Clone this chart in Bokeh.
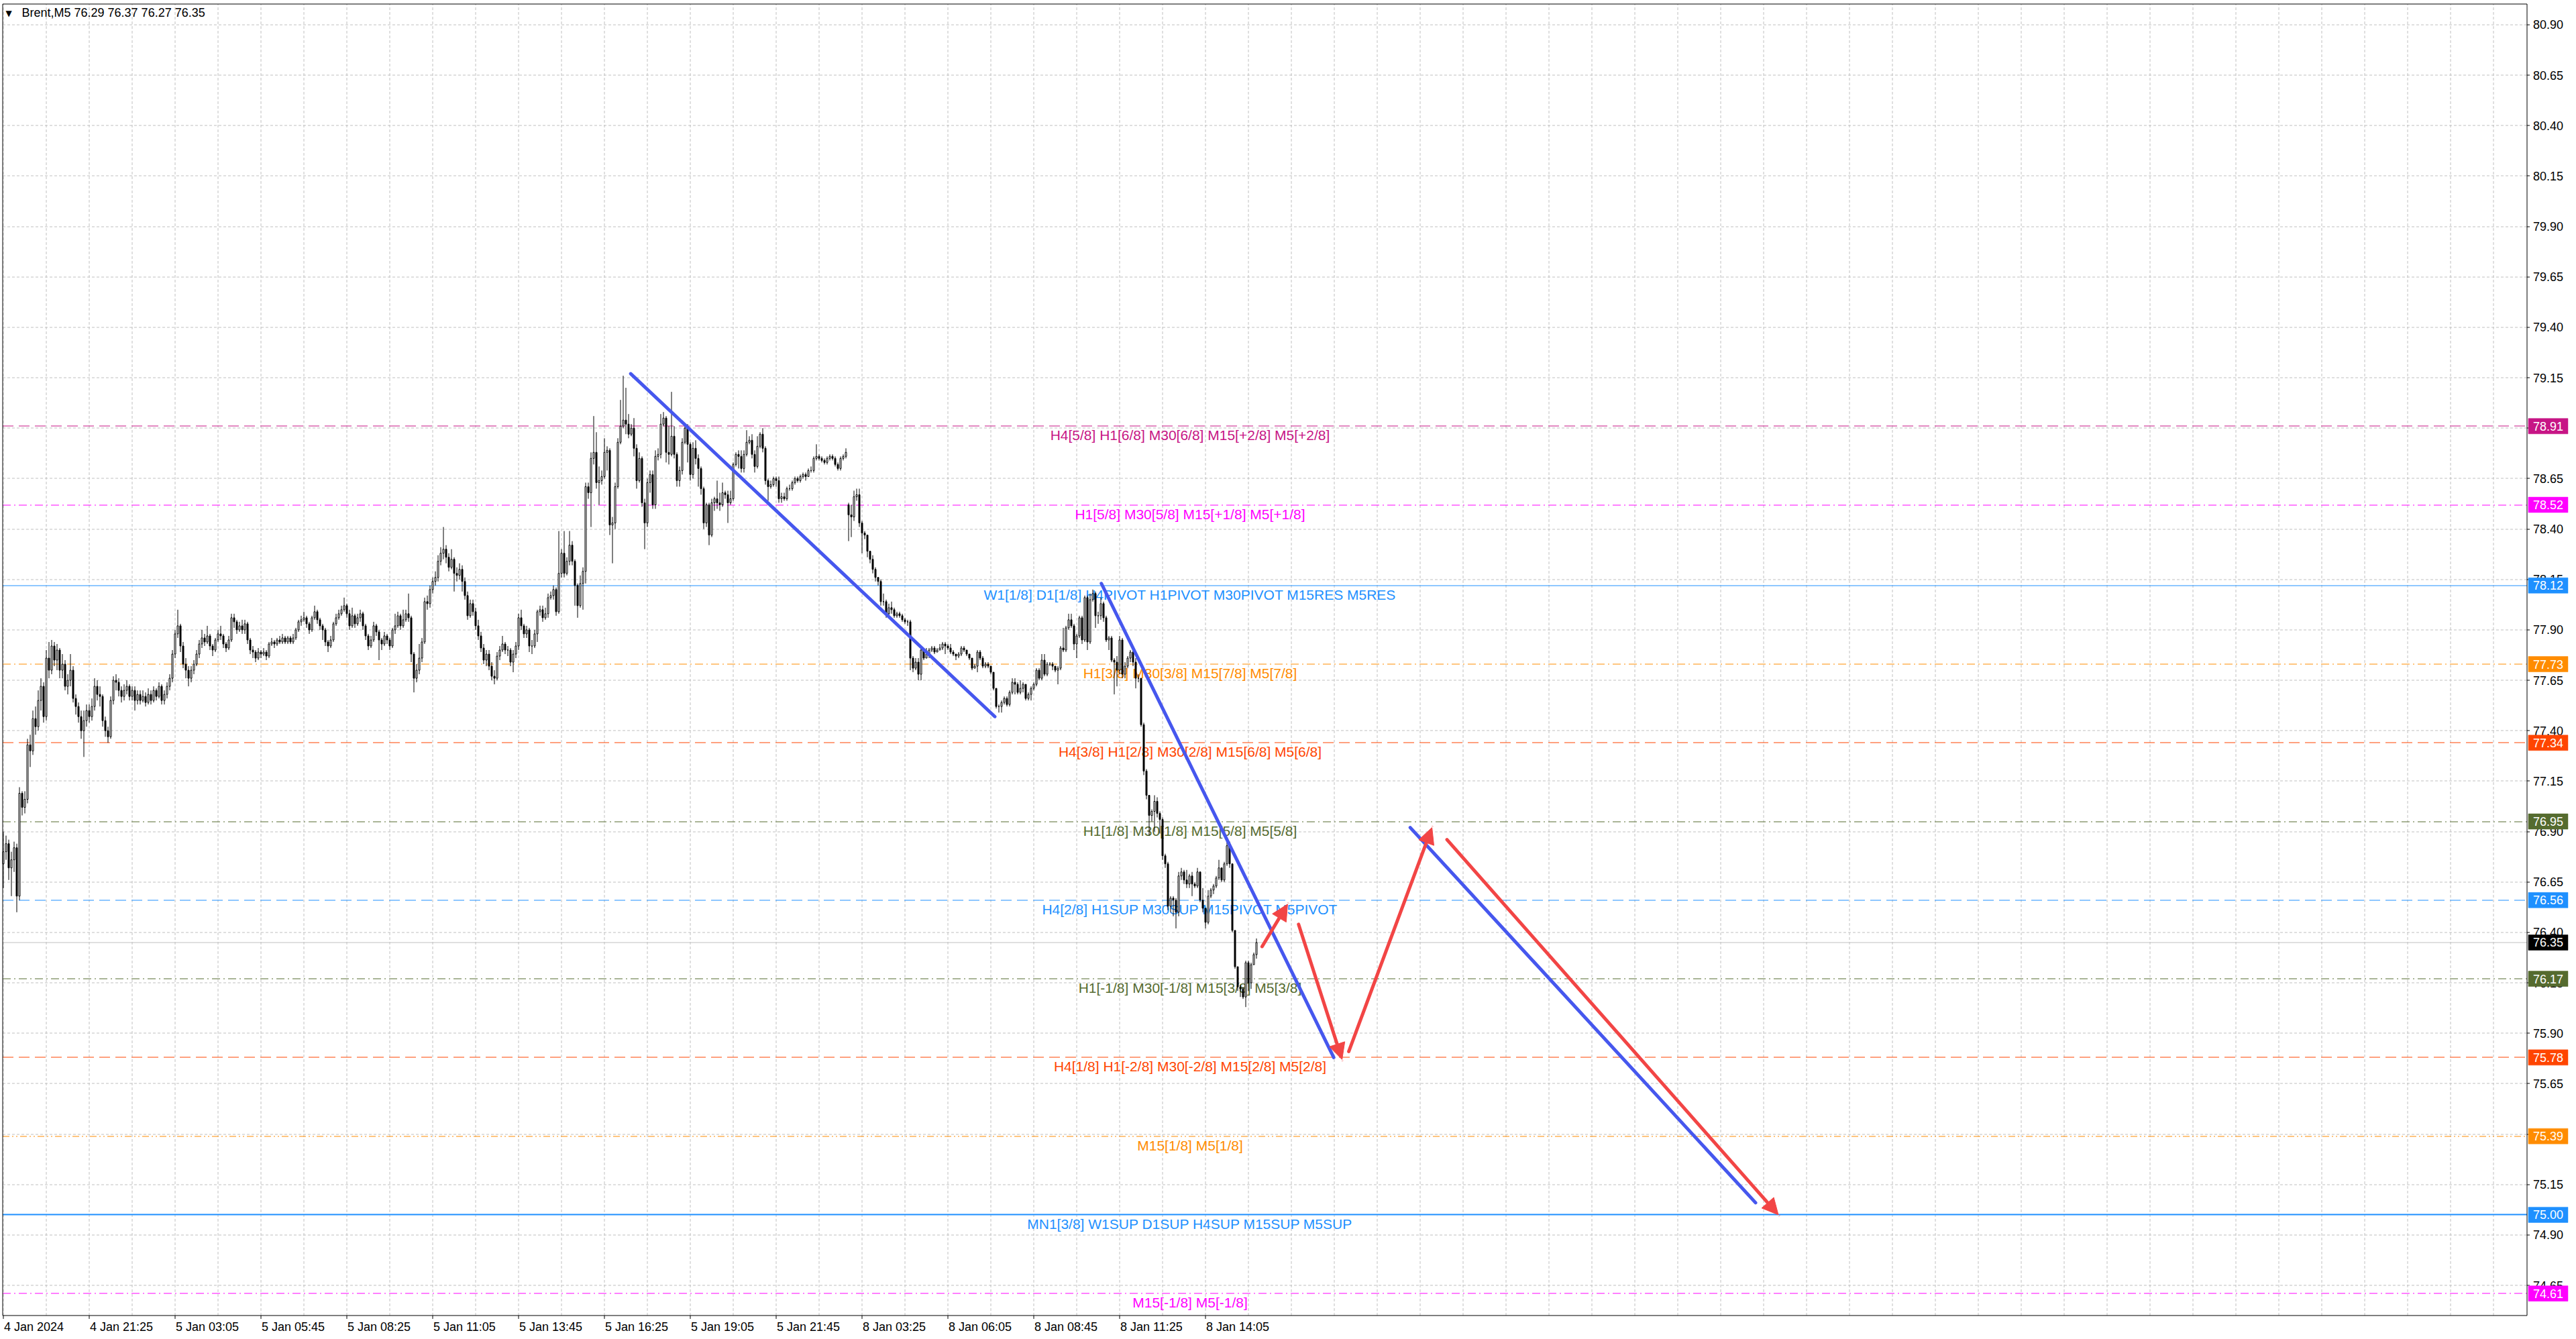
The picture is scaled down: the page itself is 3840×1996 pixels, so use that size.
import math
from bokeh.plotting import figure
from bokeh.models import Range1d, Label, Arrow, NormalHead, ColumnDataSource
from bokeh.core.properties import value
from bokeh.embed import file_html
from bokeh.resources import INLINE

# ---------------- data ----------------
symbol_title = "Brent,M5  76.29 76.37 76.27 76.35"

close = [
    76.80, 76.84, 76.72, 76.76, 76.82, 76.58, 77.09, 77.02, 77.06, 77.33,
    77.30, 77.46, 77.42, 77.55, 77.62, 77.47, 77.76, 77.70, 77.82, 77.75,
    77.80, 77.70, 77.73, 77.62, 77.65, 77.70, 77.56, 77.52, 77.47, 77.40,
    77.45, 77.50, 77.47, 77.52, 77.62, 77.58, 77.57, 77.45, 77.40, 77.37,
    77.55, 77.65, 77.64, 77.60, 77.57, 77.60, 77.62, 77.57, 77.60, 77.55,
    77.58, 77.55, 77.57, 77.54, 77.58, 77.55, 77.60, 77.57, 77.62, 77.55,
    77.58, 77.62, 77.66, 77.78, 77.88, 77.92, 77.82, 77.73, 77.70, 77.66,
    77.70, 77.73, 77.78, 77.83, 77.86, 77.84, 77.87, 77.82, 77.80, 77.85,
    77.88, 77.87, 77.83, 77.81, 77.85, 77.96, 77.94, 77.90, 77.92, 77.90,
    77.93, 77.85, 77.80, 77.79, 77.76, 77.79, 77.78, 77.79, 77.77, 77.83,
    77.84, 77.83, 77.85, 77.84, 77.86, 77.84, 77.86, 77.84, 77.86, 77.90,
    77.94, 77.95, 77.96, 77.93, 77.90, 77.96, 77.99, 77.95, 77.92, 77.90,
    77.84, 77.82, 77.85, 77.93, 77.96, 77.98, 78.00, 78.02, 77.98, 77.92,
    77.97, 77.93, 77.96, 77.98, 77.92, 77.87, 77.82, 77.85, 77.92, 77.89,
    77.85, 77.83, 77.87, 77.85, 77.82, 77.90, 77.92, 77.97, 77.92, 77.95,
    77.98, 77.96, 77.78, 77.66, 77.70, 77.76, 77.84, 78.04, 78.03, 78.10,
    78.14, 78.16, 78.24, 78.28, 78.30, 78.26, 78.21, 78.25, 78.18, 78.17,
    78.20, 78.14, 78.07, 77.97, 78.03, 77.99, 77.92, 77.87, 77.81, 77.75,
    77.78, 77.72, 77.67, 77.66, 77.77, 77.80, 77.83, 77.80, 77.80, 77.74,
    77.78, 77.82, 77.96, 77.92, 77.88, 77.90, 77.82, 77.82, 77.88, 77.99,
    78.00, 77.96, 77.98, 78.06, 78.07, 78.10, 77.99, 78.18, 78.28, 78.18,
    78.24, 78.32, 78.24, 78.12, 78.02, 78.13, 78.19, 78.61, 78.58, 78.75,
    78.78, 78.63, 78.64, 78.66, 78.78, 78.79, 78.42, 78.43, 78.61, 78.83,
    78.91, 78.94, 78.92, 78.87, 78.90, 78.80, 78.64, 78.75, 78.53, 78.43,
    78.63, 78.67, 78.52, 78.76, 78.77, 78.92, 78.95, 78.78, 78.77, 78.86,
    78.77, 78.64, 78.69, 78.83, 78.90, 78.82, 78.67, 78.80, 78.75, 78.70,
    78.60, 78.43, 78.52, 78.37, 78.53, 78.55, 78.53, 78.52, 78.58, 78.57,
    78.53, 78.55, 78.72, 78.77, 78.76, 78.70, 78.77, 78.83, 78.84, 78.77,
    78.71, 78.81, 78.87, 78.80, 78.64, 78.61, 78.62, 78.65, 78.64, 78.55,
    78.56, 78.55, 78.60, 78.60, 78.63, 78.65, 78.64, 78.66, 78.67, 78.66,
    78.69, 78.69, 78.75, 78.76, 78.75, 78.74, 78.73, 78.75, 78.76, 78.75,
    78.72, 78.70, 78.75, 78.76, 78.78, 78.47, 78.46, 78.56, 78.57, 78.43,
    78.38, 78.37, 78.29, 78.25, 78.20, 78.16, 78.14, 78.04, 78.04, 77.98,
    78.01, 78.00, 77.97, 77.98, 77.97, 77.95, 77.94, 77.94, 77.76, 77.71,
    77.74, 77.68, 77.80, 77.76, 77.78, 77.80, 77.81, 77.79, 77.80, 77.81,
    77.83, 77.82, 77.81, 77.79, 77.78, 77.77, 77.78, 77.81, 77.80, 77.78,
    77.76, 77.71, 77.72, 77.79, 77.76, 77.72, 77.73, 77.72, 77.69, 77.61,
    77.52, 77.52, 77.54, 77.56, 77.53, 77.59, 77.64, 77.63, 77.59, 77.61,
    77.63, 77.56, 77.58, 77.61, 77.63, 77.70, 77.66, 77.75, 77.68, 77.73,
    77.73, 77.72, 77.70, 77.71, 77.81, 77.80, 77.91, 77.95, 77.92, 77.83,
    77.87, 77.96, 77.85, 78.06, 77.84, 78.05, 78.08, 77.97, 77.97, 78.03,
    77.96, 77.85, 77.86, 77.75, 77.74, 77.70, 77.85, 77.68, 77.72, 77.76,
    77.79, 77.74, 77.66, 77.66, 77.43, 77.20, 77.08, 76.98, 77.00, 77.05,
    76.99, 76.96, 76.78, 76.74, 76.53, 76.57, 76.56, 76.50, 76.68, 76.70,
    76.66, 76.64, 76.68, 76.64, 76.63, 76.70, 76.56, 76.52, 76.45, 76.58,
    76.61, 76.63, 76.67, 76.72, 76.66, 76.74, 76.83, 76.74, 76.41, 76.23,
    76.13, 76.12, 76.08, 76.25, 76.15, 76.24, 76.29, 76.35,
]

high = [
    76.90, 76.88, 76.86, 76.80, 76.85, 76.84, 77.12, 77.10, 77.10, 77.36,
    77.38, 77.50, 77.52, 77.60, 77.66, 77.64, 77.80, 77.84, 77.85, 77.84,
    77.83, 77.81, 77.78, 77.75, 77.68, 77.78, 77.72, 77.58, 77.54, 77.50,
    77.50, 77.53, 77.53, 77.56, 77.66, 77.65, 77.62, 77.58, 77.47, 77.42,
    77.57, 77.67, 77.68, 77.66, 77.62, 77.63, 77.65, 77.63, 77.62, 77.62,
    77.60, 77.60, 77.60, 77.59, 77.61, 77.60, 77.62, 77.61, 77.64, 77.63,
    77.60, 77.64, 77.68, 77.80, 77.90, 78.00, 77.93, 77.84, 77.76, 77.72,
    77.72, 77.75, 77.80, 77.85, 77.90, 77.88, 77.92, 77.88, 77.83, 77.86,
    77.90, 77.92, 77.88, 77.84, 77.87, 77.98, 77.98, 77.95, 77.94, 77.95,
    77.95, 77.94, 77.86, 77.82, 77.80, 77.81, 77.80, 77.81, 77.80, 77.84,
    77.86, 77.85, 77.86, 77.87, 77.88, 77.87, 77.87, 77.87, 77.88, 77.91,
    77.95, 77.97, 77.99, 77.97, 77.94, 77.97, 78.02, 78.00, 77.96, 77.93,
    77.91, 77.85, 77.87, 77.94, 77.98, 78.00, 78.02, 78.06, 78.03, 78.00,
    78.01, 77.98, 77.98, 78.00, 77.99, 77.93, 77.88, 77.87, 77.94, 77.93,
    77.90, 77.86, 77.89, 77.88, 77.86, 77.91, 77.98, 77.99, 77.98, 78.00,
    78.00, 78.08, 77.97, 77.79, 77.73, 77.83, 77.86, 78.06, 78.07, 78.12,
    78.16, 78.19, 78.27, 78.31, 78.41, 78.32, 78.28, 78.30, 78.26, 78.21,
    78.23, 78.22, 78.16, 78.09, 78.05, 78.05, 78.01, 77.95, 77.89, 77.83,
    77.80, 77.80, 77.74, 77.70, 77.79, 77.82, 77.87, 77.84, 77.82, 77.81,
    77.80, 77.84, 77.98, 78.00, 77.93, 77.92, 77.91, 77.85, 77.90, 78.00,
    78.02, 78.02, 78.01, 78.08, 78.09, 78.12, 78.11, 78.39, 78.30, 78.39,
    78.26, 78.39, 78.34, 78.25, 78.13, 78.17, 78.21, 78.63, 78.63, 78.78,
    78.96, 78.88, 78.71, 78.69, 78.85, 78.81, 78.80, 78.46, 78.63, 78.85,
    79.04, 79.16, 79.10, 78.97, 78.92, 78.95, 78.82, 78.78, 78.76, 78.55,
    78.65, 78.69, 78.69, 78.79, 78.80, 78.97, 78.98, 78.96, 78.91, 79.08,
    78.91, 78.78, 78.71, 78.85, 78.92, 78.92, 78.83, 78.83, 78.84, 78.77,
    78.71, 78.61, 78.53, 78.53, 78.55, 78.56, 78.64, 78.58, 78.63, 78.59,
    78.59, 78.59, 78.73, 78.78, 78.79, 78.79, 78.79, 78.89, 78.86, 78.87,
    78.79, 78.86, 78.88, 78.90, 78.81, 78.65, 78.64, 78.66, 78.66, 78.66,
    78.58, 78.58, 78.61, 78.62, 78.64, 78.66, 78.66, 78.67, 78.68, 78.68,
    78.70, 78.71, 78.76, 78.82, 78.77, 78.76, 78.75, 78.76, 78.77, 78.77,
    78.76, 78.73, 78.76, 78.77, 78.80, 78.53, 78.52, 78.59, 78.60, 78.60,
    78.44, 78.39, 78.37, 78.29, 78.27, 78.21, 78.16, 78.15, 78.08, 78.05,
    78.03, 78.04, 78.01, 77.99, 77.99, 77.98, 77.96, 77.95, 77.95, 77.77,
    77.76, 77.76, 77.81, 77.81, 77.81, 77.81, 77.82, 77.82, 77.81, 77.83,
    77.84, 77.84, 77.83, 77.83, 77.80, 77.78, 77.79, 77.82, 77.82, 77.80,
    77.78, 77.76, 77.73, 77.80, 77.80, 77.77, 77.74, 77.74, 77.72, 77.69,
    77.61, 77.53, 77.55, 77.57, 77.57, 77.60, 77.66, 77.66, 77.64, 77.65,
    77.64, 77.63, 77.59, 77.62, 77.64, 77.71, 77.71, 77.78, 77.78, 77.74,
    77.74, 77.74, 77.72, 77.72, 77.82, 77.91, 77.92, 77.98, 77.98, 77.93,
    77.88, 77.97, 77.97, 78.07, 78.07, 78.08, 78.10, 78.09, 77.99, 78.06,
    78.04, 77.97, 77.87, 77.87, 77.76, 77.77, 77.87, 77.86, 77.74, 77.77,
    77.80, 77.80, 77.76, 77.68, 77.66, 77.44, 77.21, 77.08, 77.01, 77.08,
    77.07, 77.00, 76.97, 76.79, 76.75, 76.58, 76.58, 76.57, 76.70, 76.72,
    76.71, 76.71, 76.69, 76.70, 76.65, 76.72, 76.70, 76.62, 76.52, 76.61,
    76.62, 76.64, 76.68, 76.76, 76.72, 76.75, 76.85, 76.85, 76.74, 76.41,
    76.23, 76.14, 76.13, 76.26, 76.26, 76.25, 76.30, 76.37,
]

low = [
    76.62, 76.76, 76.66, 76.58, 76.70, 76.50, 76.56, 76.98, 76.99, 77.04,
    77.22, 77.28, 77.38, 77.40, 77.50, 77.44, 77.45, 77.66, 77.68, 77.72,
    77.70, 77.66, 77.66, 77.60, 77.58, 77.62, 77.54, 77.48, 77.44, 77.36,
    77.27, 77.42, 77.44, 77.45, 77.50, 77.55, 77.52, 77.42, 77.37, 77.34,
    77.36, 77.53, 77.60, 77.57, 77.54, 77.55, 77.58, 77.55, 77.55, 77.50,
    77.53, 77.53, 77.54, 77.52, 77.53, 77.53, 77.54, 77.55, 77.56, 77.53,
    77.53, 77.56, 77.60, 77.64, 77.76, 77.86, 77.79, 77.71, 77.66, 77.62,
    77.64, 77.68, 77.72, 77.76, 77.81, 77.82, 77.83, 77.80, 77.77, 77.79,
    77.84, 77.85, 77.81, 77.79, 77.80, 77.84, 77.91, 77.88, 77.89, 77.88,
    77.88, 77.83, 77.78, 77.76, 77.74, 77.75, 77.76, 77.77, 77.75, 77.76,
    77.82, 77.81, 77.82, 77.83, 77.83, 77.83, 77.83, 77.83, 77.83, 77.85,
    77.89, 77.92, 77.94, 77.91, 77.88, 77.89, 77.95, 77.93, 77.90, 77.85,
    77.82, 77.79, 77.81, 77.84, 77.92, 77.95, 77.97, 77.99, 77.96, 77.90,
    77.91, 77.91, 77.92, 77.94, 77.90, 77.85, 77.80, 77.81, 77.84, 77.87,
    77.75, 77.80, 77.82, 77.83, 77.80, 77.81, 77.88, 77.91, 77.90, 77.91,
    77.94, 77.94, 77.74, 77.59, 77.64, 77.68, 77.74, 77.83, 78.00, 78.01,
    78.08, 78.12, 78.14, 78.22, 78.25, 78.23, 78.19, 78.20, 78.09, 78.14,
    78.15, 78.09, 78.05, 77.95, 77.96, 77.97, 77.90, 77.85, 77.79, 77.73,
    77.72, 77.70, 77.65, 77.63, 77.65, 77.75, 77.79, 77.78, 77.77, 77.72,
    77.69, 77.76, 77.80, 77.90, 77.86, 77.86, 77.79, 77.78, 77.81, 77.84,
    77.97, 77.94, 77.95, 77.96, 78.05, 78.05, 77.97, 77.98, 78.16, 78.16,
    78.17, 78.22, 78.22, 78.02, 77.96, 78.01, 78.00, 78.13, 78.55, 78.41,
    78.72, 78.60, 78.52, 78.62, 78.65, 78.69, 78.37, 78.23, 78.40, 78.60,
    78.82, 78.90, 78.87, 78.85, 78.86, 78.76, 78.60, 78.63, 78.51, 78.30,
    78.41, 78.58, 78.50, 78.50, 78.74, 78.75, 78.91, 78.73, 78.72, 78.76,
    78.75, 78.61, 78.61, 78.67, 78.82, 78.73, 78.64, 78.65, 78.72, 78.61,
    78.57, 78.40, 78.41, 78.32, 78.36, 78.49, 78.50, 78.49, 78.51, 78.55,
    78.43, 78.52, 78.54, 78.71, 78.70, 78.68, 78.68, 78.76, 78.82, 78.75,
    78.68, 78.70, 78.80, 78.78, 78.62, 78.54, 78.60, 78.61, 78.61, 78.53,
    78.53, 78.54, 78.54, 78.59, 78.59, 78.62, 78.63, 78.63, 78.65, 78.64,
    78.66, 78.68, 78.68, 78.74, 78.74, 78.73, 78.72, 78.72, 78.74, 78.74,
    78.71, 78.69, 78.69, 78.74, 78.75, 78.34, 78.36, 78.44, 78.54, 78.41,
    78.28, 78.35, 78.26, 78.23, 78.18, 78.14, 78.12, 78.02, 78.02, 77.96,
    77.97, 77.98, 77.96, 77.96, 77.96, 77.94, 77.93, 77.92, 77.70, 77.69,
    77.70, 77.65, 77.65, 77.75, 77.76, 77.76, 77.79, 77.78, 77.79, 77.80,
    77.80, 77.78, 77.80, 77.78, 77.77, 77.75, 77.76, 77.77, 77.79, 77.77,
    77.75, 77.70, 77.71, 77.69, 77.75, 77.71, 77.71, 77.71, 77.68, 77.60,
    77.51, 77.49, 77.49, 77.53, 77.52, 77.52, 77.58, 77.58, 77.58, 77.58,
    77.59, 77.55, 77.55, 77.55, 77.60, 77.62, 77.65, 77.65, 77.67, 77.67,
    77.72, 77.70, 77.69, 77.63, 77.70, 77.79, 77.79, 77.90, 77.91, 77.80,
    77.76, 77.86, 77.83, 77.84, 77.80, 77.83, 78.04, 77.91, 77.93, 77.95,
    77.94, 77.84, 77.80, 77.74, 77.58, 77.62, 77.68, 77.66, 77.66, 77.71,
    77.74, 77.72, 77.61, 77.64, 77.42, 77.18, 77.06, 76.88, 76.95, 76.90,
    76.97, 76.89, 76.76, 76.72, 76.51, 76.50, 76.48, 76.42, 76.48, 76.66,
    76.64, 76.62, 76.62, 76.58, 76.62, 76.62, 76.55, 76.50, 76.42, 76.44,
    76.57, 76.59, 76.62, 76.66, 76.65, 76.65, 76.73, 76.72, 76.40, 76.22,
    76.11, 76.08, 76.07, 76.03, 76.11, 76.12, 76.24, 76.27,
]

# bars whose open does not follow the previous close (first bar, Monday session open)
session_open = {0: 76.74, 315: 78.52}

# x-axis labels (one every 32 bars)
x_tick_bars = [0, 32, 64, 96, 128, 160, 192, 224, 256, 288, 320, 352, 384, 416, 448]
x_tick_labels = ["4 Jan 2024", "4 Jan 21:25", "5 Jan 03:05", "5 Jan 05:45", "5 Jan 08:25",
                 "5 Jan 11:05", "5 Jan 13:45", "5 Jan 16:25", "5 Jan 19:05", "5 Jan 21:45",
                 "8 Jan 03:25", "8 Jan 06:05", "8 Jan 08:45", "8 Jan 11:25", "8 Jan 14:05"]

y_ticks = [74.65, 74.90, 75.15, 75.40, 75.65, 75.90, 76.15, 76.40, 76.65, 76.90, 77.15,
           77.40, 77.65, 77.90, 78.15, 78.40, 78.65, 78.90, 79.15, 79.40, 79.65, 79.90,
           80.15, 80.40, 80.65, 80.90]
y_tick_labels = ["%.2f" % t for t in y_ticks]

# Murrey-math style levels
levels = [78.91, 78.52, 78.12, 77.73, 77.34, 76.95, 76.56, 76.17, 75.78, 75.39, 75.00, 74.61]
level_texts = [
    "H4[5/8] H1[6/8] M30[6/8] M15[+2/8] M5[+2/8]",
    "H1[5/8] M30[5/8] M15[+1/8] M5[+1/8]",
    "W1[1/8] D1[1/8] H4PIVOT H1PIVOT M30PIVOT M15RES M5RES",
    "H1[3/8] M30[3/8] M15[7/8] M5[7/8]",
    "H4[3/8] H1[2/8] M30[2/8] M15[6/8] M5[6/8]",
    "H1[1/8] M30[1/8] M15[5/8] M5[5/8]",
    "H4[2/8] H1SUP M30SUP M15PIVOT M5PIVOT",
    "H1[-1/8] M30[-1/8] M15[3/8] M5[3/8]",
    "H4[1/8] H1[-2/8] M30[-2/8] M15[2/8] M5[2/8]",
    "M15[1/8] M5[1/8]",
    "MN1[3/8] W1SUP D1SUP H4SUP M15SUP M5SUP",
    "M15[-1/8] M5[-1/8]",
]
level_colors = ["#C71585", "#FF00FF", "#1E90FF", "#FF8C00", "#FF4500", "#556B2F",
                "#1E90FF", "#556B2F", "#FF4500", "#FF8C00", "#1E90FF", "#FF00FF"]
level_dash = ["16 8", "12 5 2 5", "solid", "12 5 2 5", "16 8", "12 5 2 5",
              "16 8", "12 5 2 5", "16 8", "10 4 2 4 2 4", "solid", "12 5 2 5"]
level_width = [1, 1, 1, 1, 1, 1, 1, 1, 1, 1, 2, 1]

last_price = 76.35

# hand-drawn trend lines (bar index, price)
trend_x0 = [233.8, 409.2, 524.3]
trend_y0 = [79.17, 78.13, 76.92]
trend_x1 = [369.5, 495.8, 653.0]
trend_y1 = [77.47, 75.78, 75.06]

# red forecast arrows (bar index, price)
arrow_x0 = [469.1, 482.7, 501.4, 538.0]
arrow_y0 = [76.33, 76.44, 75.81, 76.86]
arrow_x1 = [478.6, 498.9, 532.4, 661.5]
arrow_y1 = [76.54, 75.77, 76.92, 75.00]

# ---------------- layout constants ----------------
FRAME_W, FRAME_H = 3838, 1994          # whole canvas is the frame; scales drawn by hand
PX_X = 4.0                             # pixels per bar
PX_Y = 300.68                          # pixels per price unit
X0 = -1.125                            # bar at the canvas left edge (bar centres on pixel centres)
Y_TOP = 81.021                         # price at the canvas top edge
BORDER_LEFT = -0.25
AXIS_X = 940.5                         # bar coordinate of the price-scale line
FONT = "Liberation Sans"
BLUE = "#4657EE"
RED = "#F24545"
GRID = "#C0C0C0"


def dx(px):
    return px / PX_X


def dy(px):
    return px / PX_Y


def snap_y(v, width=1):
    """move a horizontal line onto the pixel grid so that it renders crisply"""
    py = (Y_TOP - v) * PX_Y
    py = math.floor(py) + (0.5 if width % 2 else 0.0)
    return Y_TOP - py / PX_Y


BORDER_TOP = snap_y(81.004)
CHART_BOTTOM = snap_y(74.502)

n = min(len(close), len(high), len(low))
opens, prev = [], None
for i in range(n):
    o = session_open.get(i, prev)
    opens.append(o)
    prev = close[i]

xs = list(range(n))
tops = [max(opens[i], close[i]) for i in range(n)]
bots = [min(opens[i], close[i]) for i in range(n)]
hi = [max(high[i], tops[i]) for i in range(n)]
lo = [min(low[i], bots[i]) for i in range(n)]
fills = ["white" if close[i] >= opens[i] else "black" for i in range(n)]

p = figure(frame_width=FRAME_W, frame_height=FRAME_H,
           x_range=Range1d(X0, X0 + FRAME_W / PX_X),
           y_range=Range1d(Y_TOP - FRAME_H / PX_Y, Y_TOP),
           x_axis_type=None, y_axis_type=None,
           output_backend="svg", toolbar_location=None,
           min_border=0, min_border_left=0, min_border_right=0,
           min_border_top=0, min_border_bottom=0,
           background_fill_color="white", border_fill_color="white",
           outline_line_color=None)

# ---- grid ----
vg = [b for b in range(0, 940, 16)]
p.segment(x0=vg, y0=[CHART_BOTTOM] * len(vg), x1=vg, y1=[BORDER_TOP] * len(vg),
          line_color=GRID, line_dash="4 3", line_width=1)
gy = [snap_y(t) for t in y_ticks]
p.segment(x0=[BORDER_LEFT] * len(gy), y0=gy, x1=[AXIS_X] * len(gy), y1=gy,
          line_color=GRID, line_dash="4 3", line_width=1)

# ---- level lines ----
for lv, col, dsh, w in zip(levels, level_colors, level_dash, level_width):
    yy = snap_y(lv, w)
    p.segment(x0=[BORDER_LEFT], y0=[yy], x1=[AXIS_X], y1=[yy], line_color=col,
              line_dash=dsh, line_width=w)
yl = snap_y(last_price)
p.segment(x0=[BORDER_LEFT], y0=[yl], x1=[AXIS_X], y1=[yl],
          line_color="#C0C0C0", line_width=1)

# ---- level texts (under candles) ----
lvl_src = ColumnDataSource(dict(x=[442.25] * len(levels), y=levels,
                                t=level_texts, c=level_colors))
p.text(x="x", y="y", text="t", text_color="c", source=lvl_src,
       text_font=value(FONT), text_font_size="21px",
       text_align="center", text_baseline="top", y_offset=2)

# ---- candles ----
src = ColumnDataSource(dict(x=xs, top=tops, bot=bots, hi=hi, lo=lo, fill=fills))
p.segment(x0="x", y0="lo", x1="x", y1="hi", source=src, line_color="black", line_width=1)
p.vbar(x="x", top="top", bottom="bot", width=0.5, source=src,
       fill_color="fill", line_color="black", line_width=1)

# ---- trend lines ----
tr_src = ColumnDataSource(dict(x0=trend_x0, y0=trend_y0, x1=trend_x1, y1=trend_y1))
p.segment(x0="x0", y0="y0", x1="x1", y1="y1", source=tr_src,
          line_color=BLUE, line_width=5, line_cap="round")

# ---- arrows ----
for x0, y0, x1, y1 in zip(arrow_x0, arrow_y0, arrow_x1, arrow_y1):
    p.add_layout(Arrow(x_start=x0, y_start=y0, x_end=x1, y_end=y1,
                       line_color=RED, line_width=5, line_cap="round",
                       end=NormalHead(size=24, fill_color=RED, line_color=RED, line_width=1)))

# ---- chart border / scale lines ----
p.quad(left=[BORDER_LEFT], right=[AXIS_X], top=[BORDER_TOP], bottom=[CHART_BOTTOM],
       fill_alpha=0, line_color="black", line_width=1)

# ---- price scale (right) ----
p.segment(x0=[AXIS_X] * len(gy), y0=gy, x1=[AXIS_X + dx(4)] * len(gy),
          y1=gy, line_color="black", line_width=1)
p.text(x=[AXIS_X] * len(y_ticks), y=y_ticks, text=y_tick_labels, x_offset=9,
       text_font=value(FONT), text_font_size="18px", text_color="black",
       text_align="left", text_baseline="middle")

tag_prices = levels[:7] + [last_price] + levels[7:]
tag_colors = level_colors[:7] + ["black"] + level_colors[7:]
tag_texts = ["%.2f" % v for v in tag_prices]
p.quad(left=[AXIS_X + dx(2)] * len(tag_prices), right=[AXIS_X + dx(61)] * len(tag_prices),
       top=[v + dy(11.5) for v in tag_prices], bottom=[v - dy(11.5) for v in tag_prices],
       fill_color=tag_colors, line_color=tag_colors, line_width=0.5)
p.text(x=[AXIS_X] * len(tag_prices), y=tag_prices, text=tag_texts, x_offset=9,
       text_font=value(FONT), text_font_size="18px", text_color="white",
       text_align="left", text_baseline="middle")

# ---- time scale (bottom) ----
p.segment(x0=x_tick_bars, y0=[CHART_BOTTOM] * len(x_tick_bars), x1=x_tick_bars,
          y1=[CHART_BOTTOM - dy(5)] * len(x_tick_bars), line_color="black", line_width=1)
p.text(x=x_tick_bars, y=[CHART_BOTTOM] * len(x_tick_bars), text=x_tick_labels,
       x_offset=1, y_offset=7, text_font=value(FONT), text_font_size="18px",
       text_color="black", text_align="left", text_baseline="top")

# ---- chart title ----
p.add_layout(Label(x=8, y=FRAME_H - 12, x_units="screen", y_units="screen", text="\u25BC",
                   text_font="DejaVu Sans", text_font_size="12px", text_color="black",
                   text_align="left", text_baseline="top"))
p.add_layout(Label(x=32, y=FRAME_H - 8, x_units="screen", y_units="screen",
                   text=symbol_title, text_font=FONT, text_font_size="18px",
                   text_color="black", text_align="left", text_baseline="top"))

open("out.html", "w").write(file_html(p, INLINE))
